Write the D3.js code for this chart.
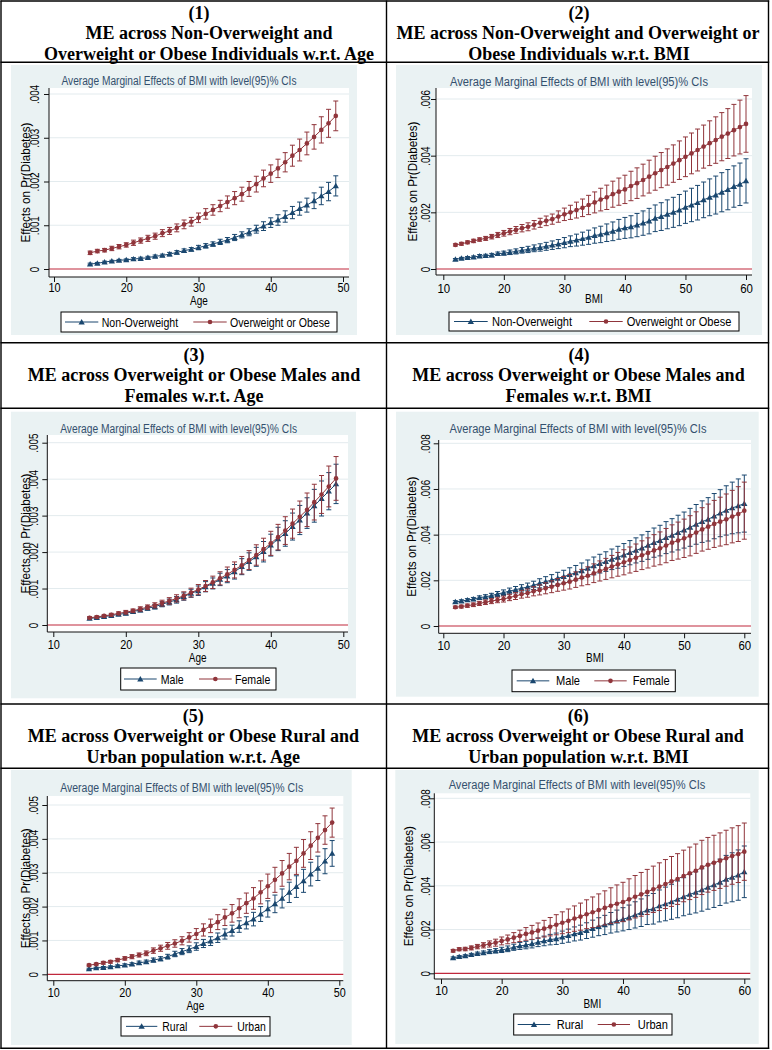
<!DOCTYPE html>
<html><head><meta charset="utf-8">
<script src="https://cdnjs.cloudflare.com/ajax/libs/d3/7.8.5/d3.min.js"></script>
<style>body{margin:0;background:#fff}svg{display:block}</style>
</head><body>
<svg id="c" width="772" height="1050"></svg>
<script>
// ---------------- DATA ----------------
const ageX=[15,16,17,18,19,20,21,22,23,24,25,26,27,28,29,30,31,32,33,34,35,36,37,38,39,40,41,42,43,44,45,46,47,48,49];
const bmiX=[12,13,14,15,16,17,18,19,20,21,22,23,24,25,26,27,28,29,30,31,32,33,34,35,36,37,38,39,40,41,42,43,44,45,46,47,48,49,50,51,52,53,54,55,56,57,58,59,60];
const ageTicks=[10,20,30,40,50];
const bmiTicks=[10,20,30,40,50,60];
const chartTitle="Average Marginal Effects of BMI with level(95)% CIs";
const yAxisTitle="Effects on Pr(Diabetes)";

// Panel 1: by weight status, w.r.t. Age
const p1NonOW=[0.000114,0.00013,0.00016,0.00018,0.0002,0.00021,0.00023,0.00024,0.00026,0.00029,0.00031,0.00034,0.00038,0.00042,0.00045,0.00049,0.00053,0.00057,0.00062,0.00066,0.00072,0.00078,0.00084,0.00091,0.00098,0.00106,0.00112,0.0012,0.00129,0.00138,0.00146,0.00156,0.00167,0.00177,0.0019];
const p1NonOWci=[0.00002,0.00002,0.00002,0.00002,0.00002,0.00002,0.00003,0.00003,0.00003,0.00003,0.00003,0.00004,0.00004,0.00004,0.00004,0.00005,0.00005,0.00005,0.00006,0.00006,0.00007,0.00007,0.00008,0.00009,0.0001,0.00011,0.00012,0.00013,0.00014,0.00015,0.00016,0.00018,0.0002,0.00021,0.00023];
const p1OW=[0.00037,0.00041,0.00043,0.00047,0.00051,0.00055,0.0006,0.00065,0.0007,0.00075,0.00082,0.00087,0.00094,0.00102,0.00108,0.00117,0.00126,0.00135,0.00144,0.00153,0.00162,0.00171,0.00183,0.00194,0.00207,0.00218,0.0023,0.00244,0.00259,0.00272,0.00287,0.00302,0.00318,0.00333,0.0035];
const p1OWci=[0.00004,0.00004,0.00004,0.00005,0.00005,0.00005,0.00006,0.00006,0.00007,0.00007,0.00008,0.00008,0.00009,0.0001,0.0001,0.00011,0.00012,0.00012,0.00013,0.00014,0.00015,0.00016,0.00017,0.00018,0.00019,0.0002,0.00021,0.00022,0.00024,0.00025,0.00026,0.00028,0.0003,0.00032,0.00034];
const p1YTicks=[0,0.001,0.002,0.003,0.004];
const p1YLabels=["0",".001",".002",".003",".004"];

// Panel 2: by weight status, w.r.t. BMI
const p2NonOW=[0.00034,0.00038,0.0004,0.00042,0.00046,0.00047,0.00049,0.00054,0.00056,0.00059,0.00062,0.00066,0.00069,0.00073,0.00076,0.0008,0.00084,0.00088,0.00093,0.00098,0.00102,0.00107,0.00112,0.00118,0.00122,0.00128,0.00133,0.0014,0.00145,0.00149,0.00155,0.00162,0.00169,0.00179,0.00185,0.00193,0.002,0.00208,0.00218,0.00226,0.00234,0.00244,0.00253,0.00261,0.00271,0.0028,0.00291,0.00299,0.00311];
const p2NonOWci=[0.00003,0.00003,0.00004,0.00004,0.00005,0.00005,0.00006,0.00006,0.00007,0.00008,0.00009,0.0001,0.00011,0.00012,0.00013,0.00014,0.00015,0.00016,0.00018,0.00019,0.00021,0.00023,0.00025,0.00027,0.00029,0.00031,0.00033,0.00035,0.00037,0.00039,0.00041,0.00043,0.00045,0.00047,0.00049,0.00051,0.00053,0.00055,0.00057,0.00059,0.00061,0.00063,0.00065,0.00067,0.00069,0.00071,0.00073,0.00075,0.00078];
const p2OW=[0.00085,0.00089,0.00094,0.00099,0.00104,0.00108,0.00114,0.0012,0.00126,0.00132,0.00138,0.00144,0.00149,0.00156,0.00163,0.0017,0.00176,0.00185,0.00193,0.002,0.00208,0.00216,0.00226,0.00235,0.00245,0.00253,0.00264,0.00273,0.00281,0.00293,0.00303,0.00314,0.00326,0.00338,0.00349,0.0036,0.00372,0.00384,0.00396,0.00408,0.0042,0.00432,0.00444,0.00455,0.00467,0.00478,0.0049,0.00501,0.00512];
const p2OWci=[0.00004,0.00005,0.00005,0.00006,0.00006,0.00007,0.00008,0.00009,0.0001,0.00011,0.00012,0.00013,0.00014,0.00015,0.00016,0.00017,0.00018,0.0002,0.00022,0.00025,0.00028,0.00031,0.00034,0.00037,0.0004,0.00043,0.00046,0.00048,0.0005,0.00052,0.00054,0.00056,0.00058,0.0006,0.00062,0.00064,0.00066,0.00068,0.0007,0.00072,0.00074,0.00076,0.00079,0.00082,0.00085,0.00088,0.00091,0.00095,0.001];
const p2YTicks=[0,0.002,0.004,0.006];
const p2YLabels=["0",".002",".004",".006"];

// Panel 3: males vs females, w.r.t. Age
const p3Male=[0.00018,0.0002,0.00023,0.00026,0.00029,0.00032,0.00037,0.00041,0.00046,0.0005,0.00057,0.00063,0.00069,0.00078,0.00087,0.00094,0.00105,0.00114,0.00125,0.00134,0.00146,0.0016,0.00174,0.00187,0.00201,0.00219,0.00236,0.00251,0.0027,0.00288,0.00307,0.00327,0.00347,0.00367,0.00387];
const p3MaleCi=[0.00002,0.00002,0.00003,0.00003,0.00003,0.00004,0.00004,0.00005,0.00005,0.00006,0.00007,0.00008,0.00009,0.0001,0.00011,0.00013,0.00014,0.00015,0.00017,0.00018,0.0002,0.00022,0.00024,0.00026,0.00028,0.0003,0.00032,0.00035,0.00037,0.0004,0.00042,0.00045,0.00048,0.00051,0.00054];
const p3Female=[0.0002,0.00022,0.00025,0.00028,0.00032,0.00035,0.00039,0.00044,0.00049,0.00054,0.0006,0.00066,0.00073,0.0008,0.00089,0.00097,0.00107,0.00117,0.00128,0.00139,0.00151,0.00164,0.00178,0.00192,0.00208,0.00224,0.00241,0.00259,0.00278,0.00297,0.00316,0.00337,0.00358,0.0038,0.00402];
const p3FemaleCi=[0.00003,0.00003,0.00003,0.00004,0.00004,0.00005,0.00005,0.00006,0.00006,0.00007,0.00008,0.00009,0.0001,0.00011,0.00012,0.00014,0.00015,0.00017,0.00018,0.0002,0.00022,0.00024,0.00026,0.00028,0.0003,0.00033,0.00035,0.00038,0.0004,0.00043,0.00046,0.00049,0.00052,0.00056,0.0006];
const p3YTicks=[0,0.001,0.002,0.003,0.004,0.005];
const p3YLabels=["0",".001",".002",".003",".004",".005"];

// Panel 4: males vs females, w.r.t. BMI
const p4Male=[0.00106,0.00109,0.00114,0.00118,0.00124,0.00128,0.00133,0.0014,0.00146,0.00153,0.00159,0.00165,0.00171,0.00178,0.00187,0.00194,0.00201,0.00209,0.00216,0.00225,0.00233,0.00242,0.00253,0.00263,0.00273,0.00282,0.00292,0.00301,0.00311,0.00321,0.00331,0.00341,0.00353,0.00365,0.00374,0.00387,0.00397,0.00409,0.0042,0.00432,0.00445,0.00457,0.00467,0.00481,0.00494,0.00506,0.00517,0.00526,0.00536];
const p4MaleCi=[0.00005,0.00006,0.00006,0.00007,0.00008,0.00009,0.0001,0.00011,0.00012,0.00013,0.00014,0.00016,0.00017,0.00018,0.0002,0.00022,0.00024,0.00026,0.00028,0.0003,0.00032,0.00034,0.00036,0.00039,0.00041,0.00043,0.00045,0.00048,0.0005,0.00053,0.00055,0.00058,0.00061,0.00064,0.00067,0.0007,0.00073,0.00076,0.00079,0.00083,0.00087,0.00091,0.00095,0.00099,0.00103,0.00108,0.00113,0.00118,0.00125];
const p4Female=[0.00082,0.00085,0.00089,0.00093,0.00099,0.00104,0.00109,0.00114,0.00118,0.00125,0.00131,0.00139,0.00144,0.00152,0.00158,0.00165,0.00172,0.0018,0.00187,0.00194,0.00203,0.00212,0.0022,0.00231,0.00241,0.0025,0.0026,0.0027,0.00279,0.00289,0.00299,0.0031,0.0032,0.00331,0.0034,0.00352,0.00365,0.00374,0.00384,0.00395,0.00409,0.00423,0.00435,0.00447,0.00457,0.00467,0.00479,0.0049,0.00505];
const p4FemaleCi=[0.00005,0.00006,0.00007,0.00008,0.00009,0.0001,0.00011,0.00012,0.00013,0.00014,0.00015,0.00017,0.00018,0.0002,0.00022,0.00024,0.00026,0.00028,0.0003,0.00032,0.00034,0.00036,0.00039,0.00041,0.00044,0.00046,0.00049,0.00052,0.00055,0.00057,0.0006,0.00063,0.00066,0.00069,0.00072,0.00075,0.00078,0.00081,0.00084,0.00088,0.00091,0.00095,0.00099,0.00103,0.00107,0.00111,0.00115,0.0012,0.00125];
const p4YTicks=[0,0.002,0.004,0.006,0.008];
const p4YLabels=["0",".002",".004",".006",".008"];

// Panel 5: rural vs urban, w.r.t. Age
const p5Rural=[0.00016,0.00019,0.0002,0.00022,0.00025,0.00027,0.0003,0.00034,0.00037,0.00042,0.00046,0.00052,0.0006,0.00067,0.00074,0.00082,0.00091,0.00098,0.00108,0.00119,0.00129,0.00141,0.00152,0.00163,0.00178,0.00193,0.00208,0.00224,0.00242,0.00259,0.00276,0.00296,0.00313,0.00334,0.00357];
const p5RuralCi=[0.00002,0.00002,0.00003,0.00003,0.00003,0.00004,0.00004,0.00005,0.00005,0.00006,0.00006,0.00007,0.00008,0.00009,0.0001,0.00011,0.00012,0.00013,0.00014,0.00015,0.00016,0.00017,0.00018,0.0002,0.00022,0.00024,0.00026,0.00028,0.0003,0.00032,0.00034,0.00035,0.00036,0.00037,0.00038];
const p5Urban=[0.00027,0.0003,0.00034,0.00037,0.00042,0.00047,0.00052,0.00057,0.00062,0.0007,0.00077,0.00084,0.00091,0.00099,0.00109,0.00119,0.00131,0.00143,0.00154,0.00168,0.0018,0.00195,0.0021,0.00224,0.00242,0.0026,0.00279,0.00298,0.00318,0.00335,0.00357,0.0038,0.00403,0.00426,0.00448];
const p5UrbanCi=[0.00003,0.00003,0.00004,0.00004,0.00005,0.00005,0.00006,0.00006,0.00007,0.00008,0.00009,0.0001,0.00011,0.00012,0.00014,0.00016,0.00018,0.0002,0.00022,0.00024,0.00026,0.00028,0.0003,0.00032,0.00034,0.00036,0.00037,0.00038,0.00039,0.0004,0.00041,0.00041,0.00042,0.00042,0.00043];
const p5YTicks=[0,0.001,0.002,0.003,0.004,0.005];
const p5YLabels=["0",".001",".002",".003",".004",".005"];

// Panel 6: rural vs urban, w.r.t. BMI
const p6Rural=[0.00071,0.00076,0.0008,0.00085,0.0009,0.00094,0.00099,0.00103,0.00107,0.00112,0.00119,0.00125,0.00129,0.00135,0.00142,0.00148,0.00154,0.00158,0.00165,0.00172,0.0018,0.00186,0.00195,0.00204,0.00213,0.00221,0.00231,0.00239,0.00247,0.00256,0.00267,0.00277,0.00289,0.00295,0.00308,0.00317,0.00327,0.00338,0.0035,0.00361,0.0037,0.00381,0.00393,0.00404,0.00416,0.0043,0.00439,0.00449,0.00464];
const p6RuralCi=[0.00004,0.00005,0.00005,0.00006,0.00007,0.00008,0.00009,0.0001,0.00012,0.00013,0.00014,0.00016,0.00017,0.00019,0.0002,0.00022,0.00024,0.00026,0.00028,0.0003,0.00032,0.00034,0.00036,0.00039,0.00041,0.00044,0.00047,0.0005,0.00053,0.00056,0.0006,0.00063,0.00066,0.0007,0.00073,0.00077,0.0008,0.00084,0.00087,0.00091,0.00094,0.00097,0.001,0.00103,0.00106,0.00109,0.00112,0.00115,0.00118];
const p6Urban=[0.00103,0.0011,0.00111,0.00116,0.00122,0.00128,0.00134,0.0014,0.00148,0.00155,0.00163,0.00171,0.0018,0.00187,0.00195,0.00204,0.00213,0.00222,0.00231,0.0024,0.0025,0.00259,0.0027,0.00279,0.00289,0.00299,0.00309,0.00318,0.00326,0.00338,0.0035,0.00361,0.00372,0.00384,0.00396,0.00408,0.0042,0.00431,0.00445,0.00457,0.00469,0.00484,0.00496,0.00505,0.00515,0.00526,0.00536,0.00545,0.00556];
const p6UrbanCi=[0.00006,0.00007,0.00008,0.00009,0.0001,0.00012,0.00014,0.00016,0.00018,0.0002,0.00023,0.00026,0.00029,0.00032,0.00035,0.00038,0.00042,0.00046,0.0005,0.00054,0.00058,0.00062,0.00066,0.0007,0.00074,0.00078,0.00082,0.00086,0.0009,0.00094,0.00097,0.001,0.00103,0.00106,0.00109,0.00112,0.00114,0.00116,0.00118,0.0012,0.00122,0.00124,0.00125,0.00126,0.00127,0.00128,0.00129,0.0013,0.00131];
const p6YTicks=[0,0.002,0.004,0.006,0.008];
const p6YLabels=["0",".002",".004",".006",".008"];

// Table headers
const head1=["(1)","ME across Non-Overweight and","Overweight or Obese Individuals w.r.t. Age"];
const head2=["(2)","ME across Non-Overweight and Overweight or","Obese Individuals w.r.t. BMI"];
const head3=["(3)","ME across Overweight or Obese Males and","Females w.r.t. Age"];
const head4=["(4)","ME across Overweight or Obese Males and","Females w.r.t. BMI"];
const head5=["(5)","ME across Overweight or Obese Rural and","Urban population w.r.t. Age"];
const head6=["(6)","ME across Overweight or Obese Rural and","Urban population w.r.t. BMI"];

// ---------------- STYLE / LAYOUT ----------------
const NAVY="#1a476f", MAROON="#90353b", ZERO="#c0283c", BG="#eaf2f3", GRID="#e3ebee", AXIS="#111", TITLEC="#34506e";
const SANS="'Liberation Sans', Arial, sans-serif", SERIF="'Liberation Serif','Times New Roman',serif";
const svg=d3.select("#c");

const headers=[
  {top:1, cx:[199,209,209], lines:head1},
  {top:1, cx:[579,578,579], lines:head2},
  {top:343, cx:[194,194,194], lines:head3},
  {top:343, cx:[579,578.5,578.5], lines:head4},
  {top:704, cx:[193.3,193.3,193.3], lines:head5},
  {top:704, cx:[578.2,578,578.5], lines:head6}
];
const headBase=[17.8,38,59];

const panels=[
 {xs:ageX, xTicks:ageTicks, xTitle:"Age", yTicks:p1YTicks, yLabels:p1YLabels,
  series:[{name:"Non-Overweight",est:p1NonOW,ci:p1NonOWci,color:NAVY,tri:true},{name:"Overweight or Obese",est:p1OW,ci:p1OWci,color:MAROON,tri:false}],
  bg:[11,65,357,335], plot:[49,88,349,277], xd:[10,50], xr:[54,343], yd:[0,0.004], yr:[269,94],
  title:[179,85,235], yLabX:34, yTitleX:25, xLabY:292, xTitleY:305, hs:0.84,
  legend:{box:[61,312,337,332], keys:[[65,98.3,101.7],[193.3,226.7,230]]}},
 {xs:bmiX, xTicks:bmiTicks, xTitle:"BMI", yTicks:p2YTicks, yLabels:p2YLabels,
  series:[{name:"Non-Overweight",est:p2NonOW,ci:p2NonOWci,color:NAVY,tri:true},{name:"Overweight or Obese",est:p2OW,ci:p2OWci,color:MAROON,tri:false}],
  bg:[396,65,762,335], plot:[436,88,752,275], xd:[10,60], xr:[443.3,746], yd:[0,0.006], yr:[269,99],
  title:[579,86,258], yLabX:425.3, yTitleX:412, xLabY:292.5, xTitleY:303, hs:0.88,
  legend:{box:[449,312,739,331], keys:[[454,487.7,492],[589.3,622.7,626.7]]}},
 {xs:ageX, xTicks:ageTicks, xTitle:"Age", yTicks:p3YTicks, yLabels:p3YLabels,
  series:[{name:"Male",est:p3Male,ci:p3MaleCi,color:NAVY,tri:true},{name:"Female",est:p3Female,ci:p3FemaleCi,color:MAROON,tri:false}],
  bg:[11,411.7,356,698.3], plot:[47.3,435,348,632], xd:[10,50], xr:[53.3,343.3], yd:[0,0.005], yr:[625,442.7],
  title:[178.7,433,237], yLabX:33.3, yTitleX:25, xLabY:648.7, xTitleY:661.5, hs:0.84,
  legend:{box:[120.7,668,276,690], keys:[[124,156.7,160.7],[199,231.7,235]]}},
 {xs:bmiX, xTicks:bmiTicks, xTitle:"BMI", yTicks:p4YTicks, yLabels:p4YLabels,
  series:[{name:"Male",est:p4Male,ci:p4MaleCi,color:NAVY,tri:true},{name:"Female",est:p4Female,ci:p4FemaleCi,color:MAROON,tri:false}],
  bg:[396,411.7,758.7,696.7], plot:[438.7,440,751,633.3], xd:[10,60], xr:[443.3,744.3], yd:[0,0.008], yr:[626,443.3],
  title:[578,433.3,257], yLabX:425.3, yTitleX:411, xLabY:650, xTitleY:661.5, hs:0.88,
  legend:{box:[512,670,675.3,691.7], keys:[[516.7,549.3,556],[594.3,626.7,632.7]]}},
 {xs:ageX, xTicks:ageTicks, xTitle:"Age", yTicks:p5YTicks, yLabels:p5YLabels,
  series:[{name:"Rural",est:p5Rural,ci:p5RuralCi,color:NAVY,tri:true},{name:"Urban",est:p5Urban,ci:p5UrbanCi,color:MAROON,tri:false}],
  bg:[11,770,351.7,1045], plot:[47.3,796,343.3,980.7], xd:[10,50], xr:[53.3,339.3], yd:[0,0.005], yr:[974.3,805],
  title:[181.7,791.7,243], yLabX:33.3, yTitleX:25, xLabY:997, xTitleY:1010, hs:0.83,
  legend:{box:[121,1016.7,270,1036], keys:[[126,157.3,162.3],[199.3,232.3,237.3]]}},
 {xs:bmiX, xTicks:bmiTicks, xTitle:"BMI", yTicks:p6YTicks, yLabels:p6YLabels,
  series:[{name:"Rural",est:p6Rural,ci:p6RuralCi,color:NAVY,tri:true},{name:"Urban",est:p6Urban,ci:p6UrbanCi,color:MAROON,tri:false}],
  bg:[395.3,770,758.7,1044], plot:[434.3,793.3,750.3,979], xd:[10,60], xr:[441,744.3], yd:[0,0.008], yr:[973.3,798.3],
  title:[577,789,256.7], yLabX:425, yTitleX:408.7, xLabY:995, xTitleY:1008, hs:0.88,
  legend:{box:[513.7,1014,672,1035], keys:[[517.7,550.3,556.7],[597.7,630,637.7]]}}
];

// ---------------- DRAW ----------------
headers.forEach(h=>{
  h.lines.forEach((t,i)=>{
    svg.append("text").attr("x",h.cx[i]).attr("y",h.top+headBase[i])
      .attr("text-anchor","middle").attr("font-family",SERIF).attr("font-weight","bold")
      .attr("font-size",18).attr("fill","#000").text(t);
  });
});

const triSym=d3.symbol().type(d3.symbolTriangle).size(17);
const cirSym=d3.symbol().type(d3.symbolCircle).size(17);

function drawPanel(p){
  const g=svg.append("g");
  const [bx0,by0,bx1,by1]=p.bg, [px0,py0,px1,py1]=p.plot;
  g.append("rect").attr("x",bx0).attr("y",by0).attr("width",bx1-bx0).attr("height",by1-by0).attr("fill",BG);
  g.append("rect").attr("x",px0).attr("y",py0).attr("width",px1-px0).attr("height",py1-py0).attr("fill","#fff");
  const x=d3.scaleLinear().domain(p.xd).range(p.xr);
  const y=d3.scaleLinear().domain(p.yd).range(p.yr);

  g.selectAll(null).data(p.yTicks.filter(t=>t>0)).enter().append("line")
    .attr("x1",px0).attr("x2",px1).attr("y1",d=>y(d)).attr("y2",d=>y(d))
    .attr("stroke",GRID).attr("stroke-width",1);
  g.append("line").attr("x1",px0).attr("x2",px1).attr("y1",y(0)).attr("y2",y(0))
    .attr("stroke",ZERO).attr("stroke-width",1.2);

  // series
  p.series.forEach(s=>{
    const data=p.xs.map((xv,i)=>({x:xv,est:s.est[i],lo:s.est[i]-s.ci[i],hi:s.est[i]+s.ci[i]}));
    const sg=g.append("g").attr("stroke",s.color).attr("fill","none");
    sg.selectAll(null).data(data).enter().append("line")
      .attr("x1",d=>x(d.x)).attr("x2",d=>x(d.x)).attr("y1",d=>y(d.lo)).attr("y2",d=>y(d.hi)).attr("stroke-width",1);
    sg.selectAll(null).data(data).enter().append("line")
      .attr("x1",d=>x(d.x)-2.5).attr("x2",d=>x(d.x)+2.5).attr("y1",d=>y(d.lo)).attr("y2",d=>y(d.lo)).attr("stroke-width",1);
    sg.selectAll(null).data(data).enter().append("line")
      .attr("x1",d=>x(d.x)-2.5).attr("x2",d=>x(d.x)+2.5).attr("y1",d=>y(d.hi)).attr("y2",d=>y(d.hi)).attr("stroke-width",1);
    g.append("path").datum(data).attr("d",d3.line().x(d=>x(d.x)).y(d=>y(d.est)))
      .attr("fill","none").attr("stroke",s.color).attr("stroke-width",1);
    g.selectAll(null).data(data).enter().append("path")
      .attr("transform",d=>`translate(${x(d.x)},${y(d.est)+(s.tri?0.6:0)})`)
      .attr("d",s.tri?triSym:cirSym).attr("fill",s.color);
  });

  // y axis
  const ya=g.append("g").attr("transform",`translate(${px0},0)`)
    .call(d3.axisLeft(y).tickValues(p.yTicks).tickFormat((d,i)=>p.yLabels[i]).tickSize(5));
  ya.select(".domain").remove();
  ya.selectAll(".tick line").attr("stroke",AXIS);
  ya.selectAll(".tick text").attr("x",0).attr("y",0).attr("dy","0.36em")
    .attr("text-anchor","middle").attr("font-family",SANS).attr("font-size",13).attr("fill","#000")
    .attr("transform",`translate(${p.yLabX-px0},0) rotate(-90) scale(0.76,1)`);
  g.append("line").attr("x1",px0).attr("x2",px0).attr("y1",py0).attr("y2",py1).attr("stroke",AXIS).attr("stroke-width",1);

  // x axis
  const xa=g.append("g").attr("transform",`translate(0,${py1})`)
    .call(d3.axisBottom(x).tickValues(p.xTicks).tickSize(5));
  xa.select(".domain").remove();
  xa.selectAll(".tick line").attr("stroke",AXIS);
  xa.selectAll(".tick text").attr("x",0).attr("y",0).attr("dy",null)
    .attr("text-anchor","middle").attr("font-family",SANS).attr("font-size",13).attr("fill","#000")
    .attr("transform",`translate(0,${p.xLabY-py1}) scale(${p.hs},1)`);
  g.append("line").attr("x1",px0).attr("x2",px1).attr("y1",py1).attr("y2",py1).attr("stroke",AXIS).attr("stroke-width",1);

  // titles
  g.append("text").attr("x",p.title[0]).attr("y",p.title[1]).attr("text-anchor","middle")
    .attr("font-family",SANS).attr("font-size",12).attr("fill",TITLEC)
    .attr("textLength",p.title[2]).attr("lengthAdjust","spacingAndGlyphs").text(chartTitle);
  g.append("text").attr("transform",`translate(${p.yTitleX},${(py0+py1)/2}) rotate(-90)`)
    .attr("dy","0.36em").attr("text-anchor","middle").attr("font-family",SANS).attr("font-size",13)
    .attr("fill","#000").attr("textLength",120).attr("lengthAdjust","spacingAndGlyphs").text(yAxisTitle);
  g.append("text").attr("transform",`translate(${(px0+px1)/2},${p.xTitleY}) scale(0.8,1)`)
    .attr("text-anchor","middle").attr("font-family",SANS).attr("font-size",12.5).attr("fill","#000").text(p.xTitle);

  // legend
  const lb=p.legend.box, cy=(lb[1]+lb[3])/2;
  g.append("rect").attr("x",lb[0]).attr("y",lb[1]).attr("width",lb[2]-lb[0]).attr("height",lb[3]-lb[1])
    .attr("fill","#fff").attr("stroke","#000").attr("stroke-width",1);
  p.series.forEach((s,i)=>{
    const k=p.legend.keys[i];
    g.append("line").attr("x1",k[0]).attr("x2",k[1]).attr("y1",cy).attr("y2",cy).attr("stroke",s.color).attr("stroke-width",1);
    g.append("path").attr("transform",`translate(${(k[0]+k[1])/2},${cy+(s.tri?0.6:0)})`).attr("d",s.tri?triSym:cirSym).attr("fill",s.color);
    g.append("text").attr("transform",`translate(${k[2]},${cy+4.6}) scale(${p.hs},1)`)
      .attr("font-family",SANS).attr("font-size",12.6).attr("fill","#000").text(s.name);
  });
}
panels.forEach(drawPanel);

// table grid lines
const tableH=[1,62.3,342.7,408.3,704,768.3,1048.3];
const tableV=[1,386.5,768.5];
svg.selectAll(null).data(tableH).enter().append("line")
  .attr("x1",0.5).attr("x2",769.2).attr("y1",d=>d).attr("y2",d=>d).attr("stroke","#000").attr("stroke-width",1.4);
svg.selectAll(null).data(tableV).enter().append("line")
  .attr("x1",d=>d).attr("x2",d=>d).attr("y1",0.5).attr("y2",1049).attr("stroke","#000").attr("stroke-width",1.4);
</script>
</body></html>
